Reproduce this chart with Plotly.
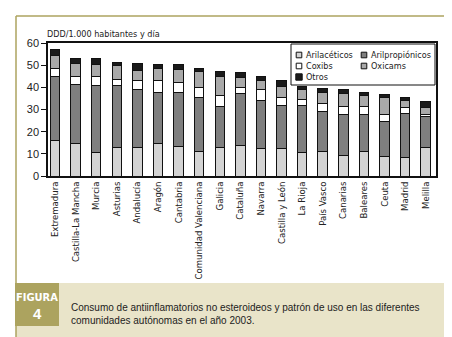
import plotly.graph_objects as go

regions = ["Extremadura", "Castilla-La Mancha", "Murcia", "Asturias", "Andalucía",
           "Aragón", "Cantabria", "Comunidad Valenciana", "Galicia", "Cataluña",
           "Navarra", "Castilla y León", "La Rioja", "País Vasco", "Canarias",
           "Baleares", "Ceuta", "Madrid", "Melilla"]

arilaceticos = [16.2, 14.8, 10.8, 12.7, 12.7, 14.8, 13.5, 11.2, 13.0, 13.9,
                12.6, 12.6, 10.8, 11.2, 9.4, 11.2, 9.0, 8.5, 12.7]
arilpropionicos = [28.8, 26.6, 30.1, 28.2, 26.4, 23.0, 24.3, 24.3, 18.5, 23.4,
                   21.6, 19.2, 21.0, 18.0, 18.3, 16.5, 15.7, 19.8, 14.1]
coxibs = [3.7, 3.6, 4.1, 2.7, 3.8, 5.4, 4.2, 4.5, 4.9, 2.7,
          4.8, 3.7, 2.7, 3.5, 3.8, 3.8, 3.2, 2.6, 0.9]
oxicams = [5.6, 5.7, 5.1, 6.2, 4.8, 5.4, 6.1, 7.2, 8.4, 4.5,
           4.2, 4.8, 4.5, 4.9, 5.7, 4.8, 7.3, 3.1, 3.2]
otros = [2.7, 2.5, 2.7, 1.3, 3.0, 1.5, 2.0, 1.5, 2.3, 2.1,
         1.6, 2.7, 1.3, 1.7, 1.6, 1.3, 1.4, 1.5, 2.5]

series_names = ["Arilacéticos", "Arilpropiónicos", "Coxibs", "Oxicams", "Otros"]
series_values = [arilaceticos, arilpropionicos, coxibs, oxicams, otros]
series_colors = ["#d3d3d3", "#7f7f7f", "#ffffff", "#a9a9a9", "#1a1a1a"]

COND = "DejaVu Sans Condensed, Liberation Sans Narrow, sans-serif"
SANS = "Liberation Sans, Arial, sans-serif"
INK = "#222222"

fig = go.Figure()
for name, vals, col in zip(series_names, series_values, series_colors):
    fig.add_trace(go.Bar(
        x=regions, y=vals, name=name, showlegend=False,
        marker=dict(color=col, line=dict(color="#111111", width=1)),
    ))

W, H = 452, 337
L, R, T, B = 40, 24, 35, 169
pw, ph = W - L - R, H - T - B


def px(x):
    return (x - L) / pw


def py(y):
    return (H - B - y) / ph


olive = "#aca35f"
shapes = [
    dict(type="rect", xref="paper", yref="paper", x0=px(8), x1=px(440), y0=py(275), y1=py(330),
         fillcolor="#e9e4c9", line=dict(width=0), layer="below"),
    dict(type="line", xref="paper", yref="paper", x0=px(8), x1=px(8), y0=py(8), y1=py(330),
         line=dict(color=olive, width=1.5)),
    dict(type="line", xref="paper", yref="paper", x0=px(8), x1=px(440), y0=py(8), y1=py(8),
         line=dict(color=olive, width=1.5)),
    dict(type="line", xref="paper", yref="paper", x0=px(440), x1=px(440), y0=py(8), y1=py(330),
         line=dict(color=olive, width=1.5)),
    dict(type="line", xref="paper", yref="paper", x0=px(8), x1=px(440), y0=py(330), y1=py(330),
         line=dict(color=olive, width=1.5)),
    dict(type="rect", xref="paper", yref="paper", x0=px(7), x1=px(51), y0=py(275), y1=py(318),
         fillcolor=olive, line=dict(width=0)),
    # legend box
    dict(type="rect", xref="paper", yref="paper", x0=px(283), x1=px(427), y0=py(36), y1=py(77),
         fillcolor="#ffffff", line=dict(color="#111111", width=1)),
]

annotations = [
    dict(text="DDD/1.000 habitantes y día", xref="paper", yref="paper",
         x=px(37), y=py(26), xanchor="left", yanchor="middle", showarrow=False,
         font=dict(family=COND, size=9, color=INK)),
    dict(text="<b>FIGURA</b>", xref="paper", yref="paper",
         x=px(29), y=py(289), xanchor="center", yanchor="middle", showarrow=False,
         font=dict(family=COND, size=11, color="#ffffff")),
    dict(text="<b>4</b>", xref="paper", yref="paper",
         x=px(29), y=py(305), xanchor="center", yanchor="middle", showarrow=False,
         font=dict(family=SANS, size=15, color="#ffffff")),
    dict(text="Consumo de antiinflamatorios no esteroideos y patrón de uso en las diferentes<br>"
              "comunidades autónomas en el año 2003.",
         xref="paper", yref="paper", x=px(61), y=py(306), xanchor="left", yanchor="middle",
         align="left", showarrow=False,
         font=dict(family=SANS, size=10, color=INK)),
]

# legend entries laid out in two columns, three rows
leg_cols = [291, 356]
leg_rows = [47, 58, 69]
for i, (name, col) in enumerate(zip(series_names, series_colors)):
    cx = leg_cols[i % 2]
    cy = leg_rows[i // 2]
    s = 3.2 if name == "Otros" else 2.8
    shapes.append(dict(type="rect", xref="paper", yref="paper",
                       x0=px(cx - s), x1=px(cx + s), y0=py(cy - s), y1=py(cy + s),
                       fillcolor=col, line=dict(color="#111111", width=1)))
    annotations.append(dict(text=name, xref="paper", yref="paper",
                            x=px(cx + 5), y=py(cy), xanchor="left", yanchor="middle",
                            showarrow=False, font=dict(family=COND, size=9, color=INK)))

fig.update_layout(
    width=W, height=H,
    margin=dict(l=L, r=R, t=T, b=B, pad=0),
    paper_bgcolor="#ffffff", plot_bgcolor="#ffffff",
    barmode="stack", bargap=0.54,
    font=dict(family=COND, size=10, color=INK),
    shapes=shapes, annotations=annotations,
    showlegend=False,
    xaxis=dict(type="category", range=[-0.34, 18.5], tickangle=-90,
               showline=True, linecolor="#111111", linewidth=1.5, mirror=True,
               ticks="", showgrid=False, tickfont=dict(family=COND, size=9.5, color=INK)),
    yaxis=dict(range=[0, 60], dtick=10, showline=True, linecolor="#111111", linewidth=1.5,
               mirror=True, ticks="outside", ticklen=5, tickcolor="#111111",
               showgrid=False, zeroline=False,
               tickfont=dict(family=SANS, size=11, color=INK)),
)

fig.write_html("out.html")
